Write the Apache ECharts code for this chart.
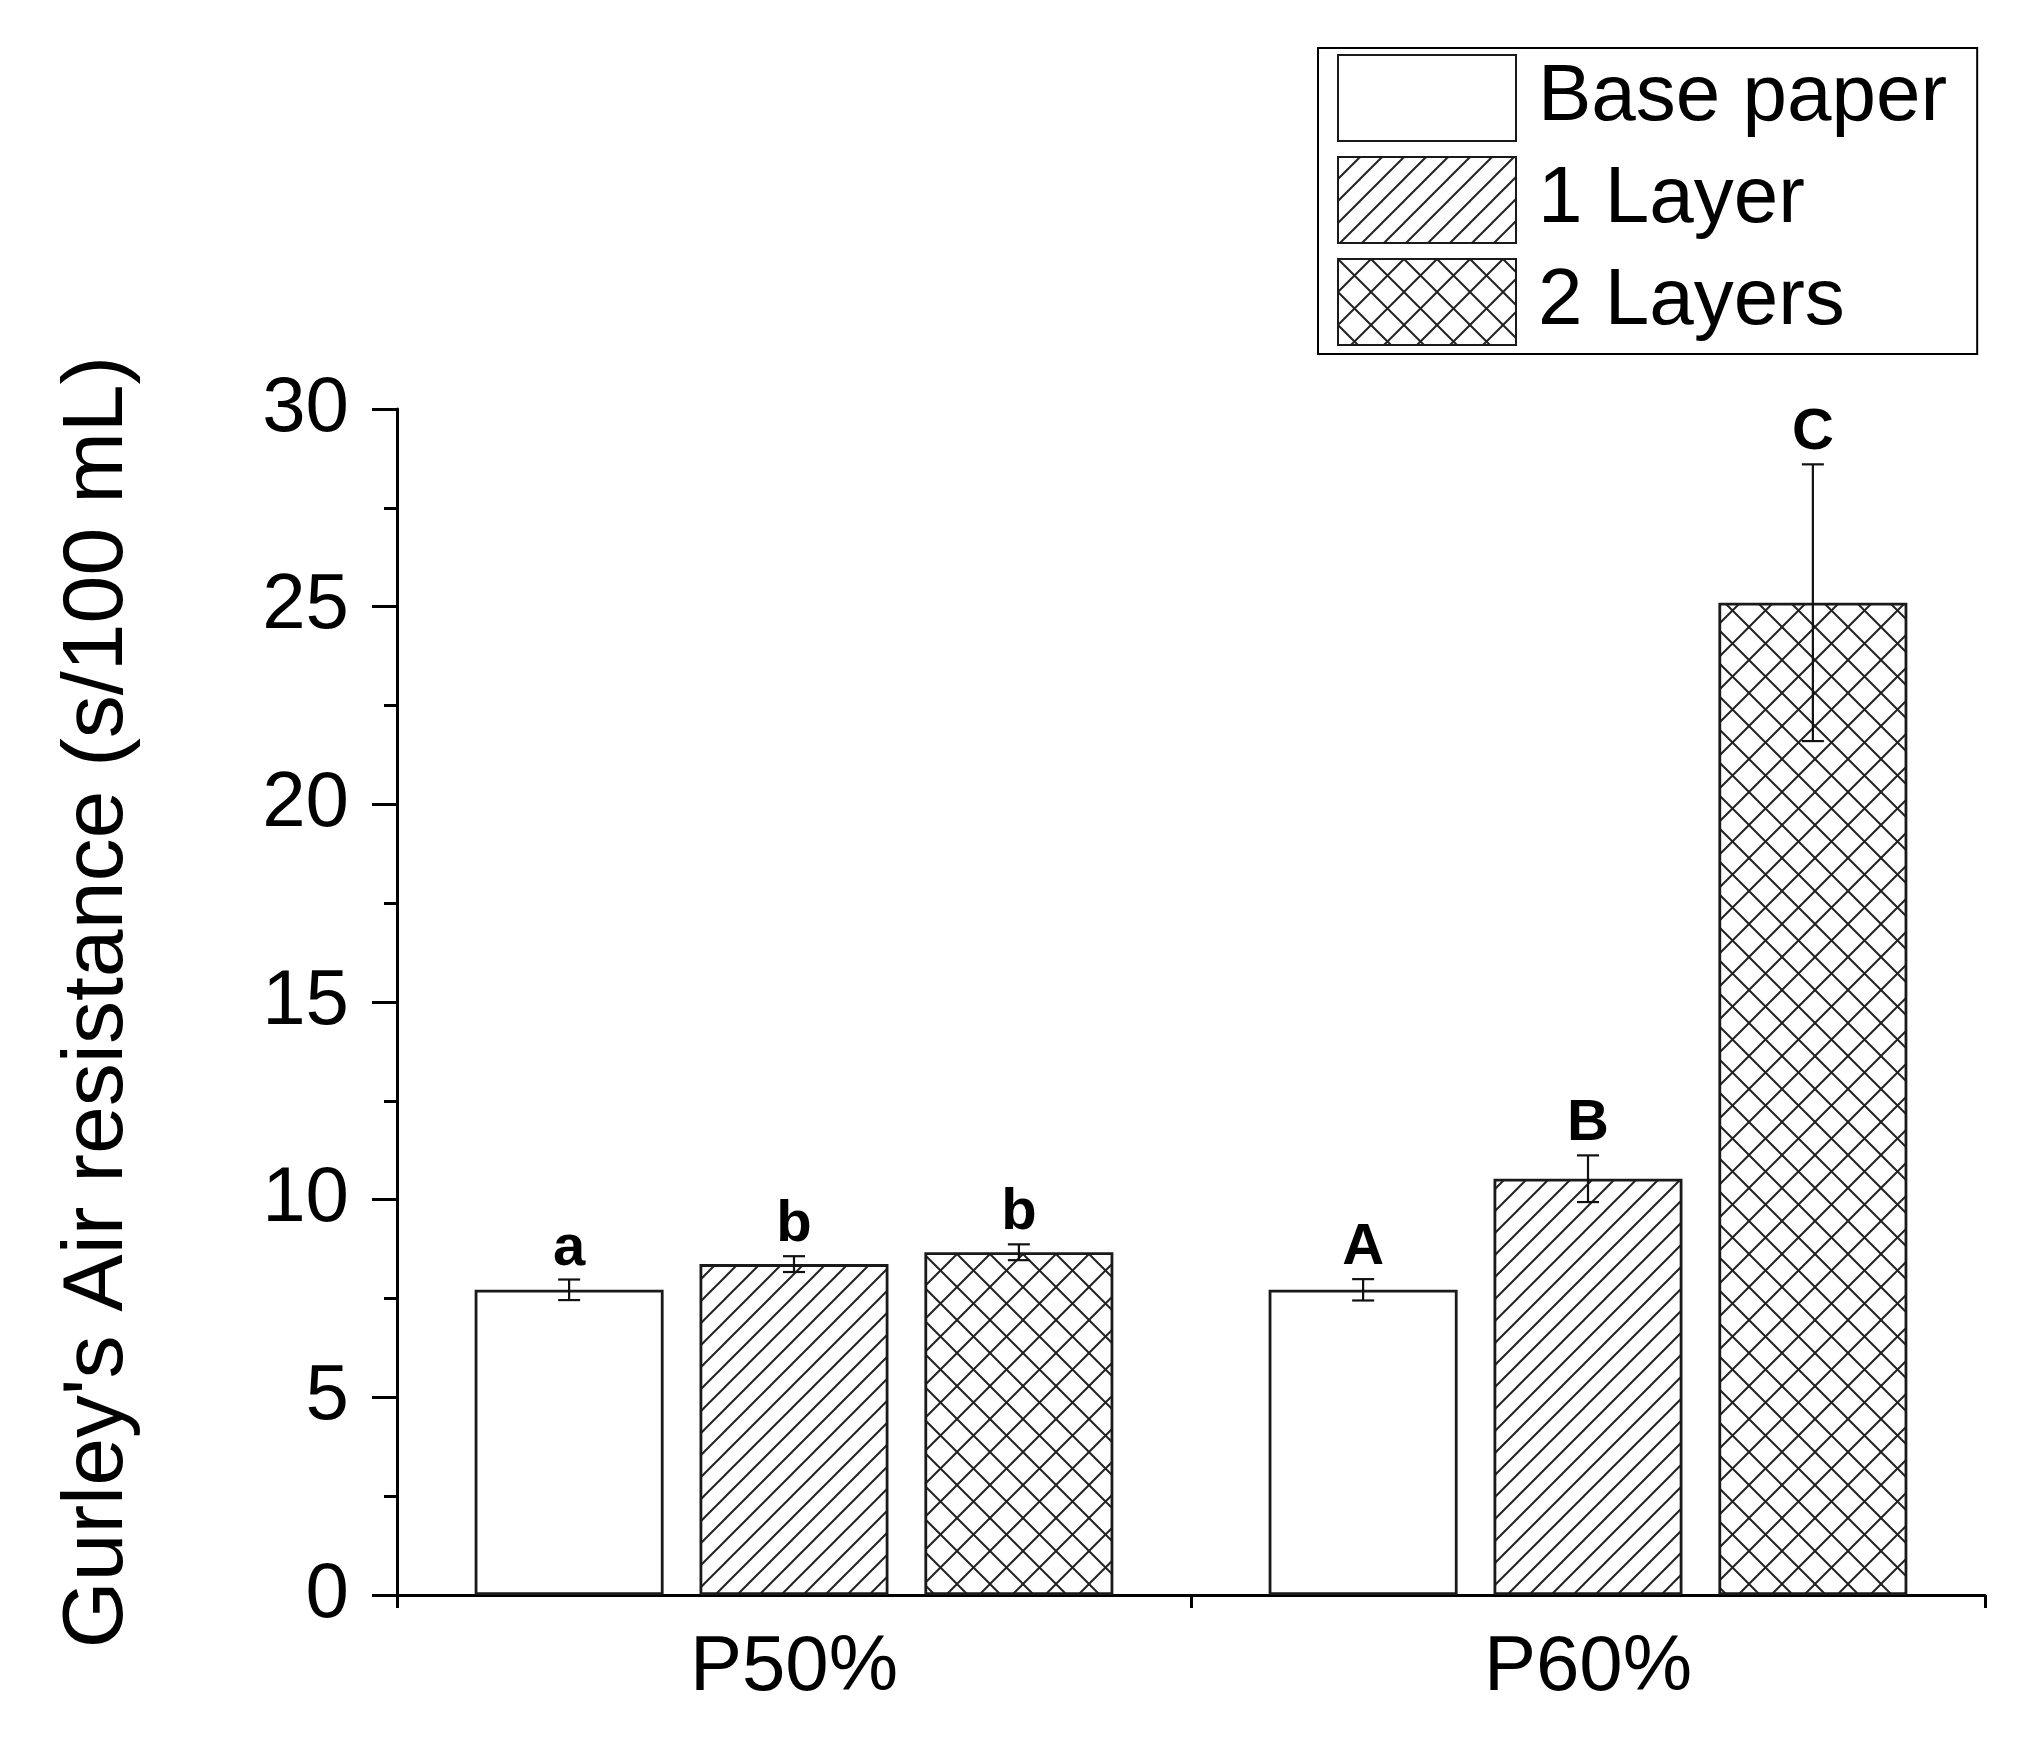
<!DOCTYPE html>
<html><head><meta charset="utf-8">
<script src="https://cdn.jsdelivr.net/npm/echarts@6/dist/echarts.min.js"></script>
<style>html,body{margin:0;padding:0;background:#fff}#c{width:2028px;height:1748px}</style>
</head><body><div id="c"></div>
<script>
// ---- data ----
const categories = ['P50%', 'P60%'];
const seriesNames = ['Base paper', '1 Layer', '2 Layers'];
const basePaper = [7.72, 7.72];
const oneLayer = [8.37, 10.53];
const twoLayers = [8.67, 25.1];
const basePaperErr = [0.26, 0.27];
const oneLayerErr = [0.2, 0.59];
const twoLayersErr = [0.2, 3.5];
const basePaperLetters = ['a', 'A'];
const oneLayerLetters = ['b', 'B'];
const twoLayersLetters = ['b', 'C'];
const yMin = 0, yMax = 30, yInterval = 5;
const yAxisTitle = "Gurley's Air resistance (s/100 mL)";

// ---- style ----
const FONT = '"Liberation Sans", Arial, sans-serif';
const BAR_W = 0.238, BAR_GAP = 0.19;

function makePattern(step, cross) {
  const c = document.createElement('canvas');
  c.width = step; c.height = step;
  const g = c.getContext('2d');
  g.fillStyle = '#fff'; g.fillRect(0, 0, step, step);
  g.strokeStyle = '#222'; g.lineWidth = 2;
  const seg = (x1, y1, x2, y2) => { g.beginPath(); g.moveTo(x1, y1); g.lineTo(x2, y2); g.stroke(); };
  seg(-step, step, step, -step); seg(0, step, step, 0); seg(0, 2 * step, 2 * step, 0);
  if (cross) { seg(-step, 0, step, 2 * step); seg(0, 0, step, step); seg(0, -step, 2 * step, step); }
  return c;
}
const fills = ['#fff', { image: makePattern(22, false), repeat: 'repeat' }, { image: makePattern(33, true), repeat: 'repeat' }];
const values = [basePaper, oneLayer, twoLayers];
const errs = [basePaperErr, oneLayerErr, twoLayersErr];
const letters = [basePaperLetters, oneLayerLetters, twoLayersLetters];

const barSeries = values.map((v, i) => ({
  type: 'bar', name: seriesNames[i], data: v,
  barWidth: (BAR_W * 100) + '%', barGap: (BAR_GAP * 100) + '%',
  itemStyle: { color: fills[i], borderColor: '#1a1a1a', borderWidth: 2.8 },
  emphasis: { disabled: true }, animation: false
}));

const errSeries = values.map((v, idx) => ({
  type: 'custom', name: seriesNames[idx] + ' err',
  data: v.map((val, i) => [i, val, errs[idx][i]]),
  z: 10, animation: false, silent: true,
  renderItem(params, api) {
    const ci = api.value(0), val = api.value(1), e = api.value(2);
    const catW = api.size([1, 0])[0];
    const bw = catW * BAR_W, gap = bw * BAR_GAP;
    const off = (idx - 1) * (bw + gap);
    const top = api.coord([ci, val + e]);
    const bot = api.coord([ci, val - e]);
    const x = top[0] + off;
    const cap = 11;
    const st = { stroke: '#111', lineWidth: 2.2 };
    return { type: 'group', children: [
      { type: 'line', shape: { x1: x, y1: top[1], x2: x, y2: bot[1] }, style: st },
      { type: 'line', shape: { x1: x - cap, y1: top[1], x2: x + cap, y2: top[1] }, style: st },
      { type: 'line', shape: { x1: x - cap, y1: bot[1], x2: x + cap, y2: bot[1] }, style: st },
      { type: 'text', style: { text: letters[idx][params.dataIndex], x: x, y: top[1] - 2,
        align: 'center', verticalAlign: 'bottom', font: 'bold 58px ' + FONT, fill: '#000' } }
    ] };
  }
}));

const chart = echarts.init(document.getElementById('c'), null, { renderer: 'canvas' });
chart.setOption({
  backgroundColor: '#fff',
  animation: false,
  grid: { left: 397, right: 43, top: 409, bottom: 153, containLabel: false },
  legend: {
    data: seriesNames, orient: 'vertical', left: 1318, top: 48,
    itemWidth: 178, itemHeight: 86, itemGap: 14, icon: 'rect',
    borderColor: '#000', borderWidth: 2, padding: [6, 30, 8, 19],
    selectedMode: false,
    textStyle: { fontFamily: FONT, fontSize: 80, color: '#000', padding: [0, 0, 0, 17] }
  },
  xAxis: [{
    type: 'category', data: categories, boundaryGap: true,
    axisLine: { lineStyle: { color: '#000', width: 3 } },
    axisTick: { alignWithLabel: true, length: 26, lineStyle: { color: '#000', width: 3 } },
    axisLabel: { fontFamily: FONT, fontSize: 78, color: '#000', margin: 34 }
  }, {
    type: 'category', data: categories, boundaryGap: true, position: 'bottom',
    axisLine: { show: false },
    axisTick: { show: true, alignWithLabel: false, length: 13, lineStyle: { color: '#000', width: 3 } },
    axisLabel: { show: false }
  }],
  yAxis: {
    type: 'value', min: yMin, max: yMax, interval: yInterval,
    name: yAxisTitle, nameLocation: 'middle', nameGap: 256,
    nameTextStyle: { fontFamily: FONT, fontSize: 86, color: '#000' },
    axisLine: { show: true, lineStyle: { color: '#000', width: 3 } },
    axisTick: { show: true, length: 25, lineStyle: { color: '#000', width: 3 } },
    minorTick: { show: true, splitNumber: 2, length: 13, lineStyle: { color: '#000', width: 3 } },
    splitLine: { show: false },
    axisLabel: { fontFamily: FONT, fontSize: 78, color: '#000', margin: 48 }
  },
  series: [...barSeries, ...errSeries]
});
</script>
</body></html>
